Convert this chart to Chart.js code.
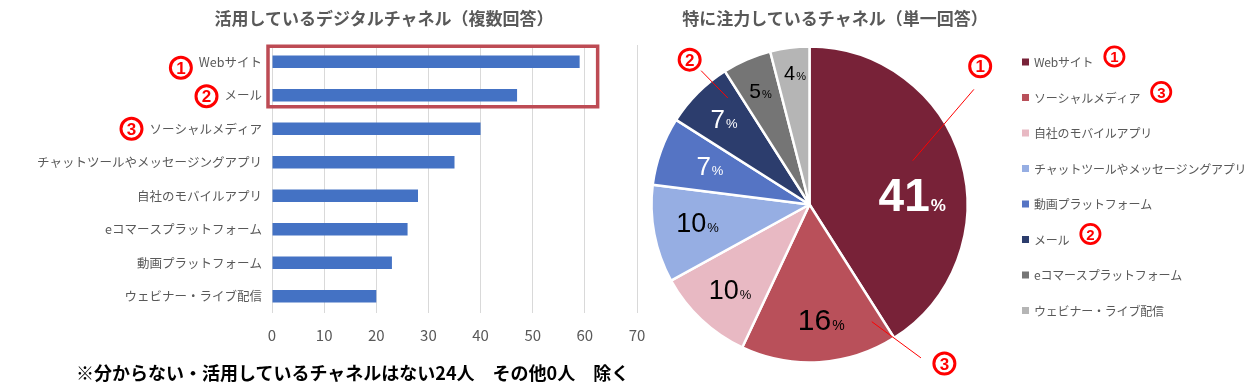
<!DOCTYPE html>
<html lang="ja">
<head>
<meta charset="utf-8">
<script src="https://cdn.jsdelivr.net/npm/chart.js@4.4.1/dist/chart.umd.min.js"></script>
<style>
  html, body { margin: 0; padding: 0; background: #fff; }
  #wrap { position: relative; width: 1246px; height: 384px; overflow: hidden; font-family: "Noto Sans CJK JP", sans-serif; }
  #barBox { position: absolute; left: 0; top: 0; width: 660px; height: 384px; }
  #pieBox { position: absolute; left: 640px; top: 0; width: 606px; height: 384px; }
  .ttl { position: absolute; top: 9px; line-height: 18px; font-size: 17px; font-weight: bold; color: #595959; white-space: nowrap; transform: translateX(-50%); }
  #note { position: absolute; left: 76px; top: 363px; line-height: 19px; font-size: 18px; font-weight: bold; color: #000; white-space: nowrap; }
</style>
</head>
<body>
<div id="wrap">
  <div id="barBox"><canvas id="barChart" width="660" height="384"></canvas></div>
  <div id="pieBox"><canvas id="pieChart" width="606" height="384"></canvas></div>
  <div class="ttl" style="left:384px">活用しているデジタルチャネル（複数回答）</div>
  <div class="ttl" style="left:835px">特に注力しているチャネル（単一回答）</div>
  <div id="note">※分からない・活用しているチャネルはない24人　その他0人　除く</div>
</div>
<script>
// ---------------------------------------------
// データ
// ---------------------------------------------
const barLabels = [
  "Webサイト", "メール", "ソーシャルメディア", "チャットツールやメッセージングアプリ",
  "自社のモバイルアプリ", "eコマースプラットフォーム", "動画プラットフォーム", "ウェビナー・ライブ配信"
];
const barValues = [59, 47, 40, 35, 28, 26, 23, 20];
const barAxisMax = 70;
const barAxisStep = 10;

const pieLabels = [
  "Webサイト", "ソーシャルメディア", "自社のモバイルアプリ", "チャットツールやメッセージングアプリ",
  "動画プラットフォーム", "メール", "eコマースプラットフォーム", "ウェビナー・ライブ配信"
];
const pieValues = [41, 16, 10, 10, 7, 7, 5, 4];

// 順位マーク（index -> 数字）
const barRanks = [1, 2, 3];
const pieRanks = { 0: 1, 5: 2, 1: 3 };

// ---------------------------------------------
// スタイル
// ---------------------------------------------
const FONT = '"Noto Sans CJK JP", sans-serif';
const NUM_FONT = '"Liberation Sans", Arial, sans-serif';
const GRAY = "#595959";
const RED = "#ff0000";
const LABEL_PX = 12.5;
const pieColors = ["#782238", "#b9505a", "#e8b9c3", "#96aee3", "#5574c4", "#2c3d6d", "#757575", "#b5b5b5"];

// スライスラベル: r=半径比, turn=角度補正(度), size/pct=フォントサイズ
const sliceLabelStyle = [
  { r: 0.65, turn: 10.5, size: 46, pct: 17, color: "#fff", bold: true },
  { r: 0.73, turn: -2, size: 30, pct: 14, color: "#000" },
  { r: 0.74, turn: 0, size: 27, pct: 13, color: "#000" },
  { r: 0.72, turn: 2, size: 27, pct: 13, color: "#000" },
  { r: 0.68, turn: 1.5, size: 26, pct: 13, color: "#fff" },
  { r: 0.77, turn: 0, size: 26, pct: 13, color: "#fff" },
  { r: 0.79, turn: 0, size: 21, pct: 11, color: "#000" },
  { r: 0.84, turn: 0.7, size: 20, pct: 11, color: "#000" }
];

// 円グラフの引き出し線 [半径比, 角度(上から時計回り・度)]
const pieCallouts = [
  { idx: 0, from: [0.71, 67], to: [1.27, 55], at: [1.39, 51] },
  { idx: 5, from: [0.85, 322.5], to: [1.09, 321], at: [1.19, 320.4] },
  { idx: 1, from: [0.84, 152], to: [1.2, 144], at: [1.32, 139.7] }
];

// ---------------------------------------------
// 補助関数
// ---------------------------------------------
const polar = (cx, cy, R, [f, deg]) => {
  const a = (deg - 90) * Math.PI / 180;
  return [cx + Math.cos(a) * R * f, cy + Math.sin(a) * R * f];
};

// 赤い丸数字（円＋数字）
const drawMark = (ctx, n, x, y, d) => {
  ctx.save();
  ctx.strokeStyle = RED;
  ctx.fillStyle = RED;
  ctx.lineWidth = d * 0.125;
  ctx.beginPath();
  ctx.arc(x, y, d / 2 - ctx.lineWidth / 2, 0, Math.PI * 2);
  ctx.stroke();
  ctx.font = `bold ${Math.round(d * 0.7)}px ${NUM_FONT}`;
  ctx.textAlign = "center";
  ctx.textBaseline = "alphabetic";
  ctx.fillText(String(n), x, y + d * 0.25);
  ctx.restore();
};

// ---------------------------------------------
// 棒グラフ用プラグイン（赤枠と順位マーク）
// ---------------------------------------------
const barMarks = {
  id: "barMarks",
  afterDraw(chart) {
    const { ctx, chartArea, scales: { x, y } } = chart;
    // 上位2項目の赤枠
    const top = y.getPixelForValue(0) - 15.5;
    const bottom = y.getPixelForValue(1) + 11.5;
    const right = x.getPixelForValue(Math.max(barValues[0], barValues[1])) + 18;
    ctx.save();
    ctx.strokeStyle = "#bd4b54";
    ctx.lineWidth = 3.5;
    ctx.strokeRect(chartArea.left - 4, top, right - chartArea.left + 4, bottom - top);
    ctx.restore();

    // ラベル左の ① ② ③
    ctx.save();
    ctx.font = `${LABEL_PX}px ${FONT}`;
    const pad = y.options.ticks.padding;
    const dys = [6, 1, 0];
    barRanks.forEach((n, i) => {
      const w = ctx.measureText(barLabels[i]).width;
      const cx = chartArea.left - pad - w - 18;
      drawMark(ctx, n, cx, y.getPixelForValue(i) + dys[i], 24);
    });
    ctx.restore();
  }
};

// ---------------------------------------------
// 円グラフ用プラグイン（ラベル・引き出し線・凡例）
// ---------------------------------------------
const pieExtras = {
  id: "pieExtras",
  afterDraw(chart) {
    const { ctx, chartArea } = chart;
    const arcs = chart.getDatasetMeta(0).data;
    const { x: cx, y: cy, outerRadius: R } = arcs[0].getProps(["x", "y", "outerRadius"], true);

    // スライス内のパーセント表示
    arcs.forEach((arc, i) => {
      const { startAngle, endAngle } = arc.getProps(["startAngle", "endAngle"], true);
      const st = sliceLabelStyle[i];
      const mid = (startAngle + endAngle) / 2 + st.turn * Math.PI / 180;
      const px = cx + Math.cos(mid) * R * st.r;
      const py = cy + Math.sin(mid) * R * st.r;
      const num = String(pieValues[i]);
      const numFont = `${st.bold ? "bold " : ""}${st.size}px ${NUM_FONT}`;
      const pctFont = `${st.bold ? "bold " : ""}${st.pct}px ${NUM_FONT}`;
      ctx.save();
      ctx.textBaseline = "alphabetic";
      ctx.fillStyle = st.color;
      ctx.font = numFont;
      const w1 = ctx.measureText(num).width;
      ctx.font = pctFont;
      const w2 = ctx.measureText("%").width;
      const left = px - (w1 + w2) / 2;
      const base = py + st.size * 0.36;
      ctx.font = numFont;
      ctx.fillText(num, left, base);
      ctx.font = pctFont;
      ctx.fillText("%", left + w1 + 1, base);
      ctx.restore();
    });

    // 引き出し線と順位マーク
    pieCallouts.forEach((c) => {
      const a = polar(cx, cy, R, c.from);
      const b = polar(cx, cy, R, c.to);
      const m = polar(cx, cy, R, c.at);
      ctx.save();
      ctx.strokeStyle = RED;
      ctx.lineWidth = 1;
      ctx.beginPath();
      ctx.moveTo(a[0], a[1]);
      ctx.lineTo(b[0], b[1]);
      ctx.stroke();
      ctx.restore();
      drawMark(ctx, pieRanks[c.idx], m[0], m[1], 24);
    });

    // 凡例
    const lx = chartArea.right + 53;
    const ly0 = 61.5;
    const step = 35.5;
    ctx.save();
    ctx.font = `12px ${FONT}`;
    ctx.letterSpacing = "-0.2px";
    ctx.textBaseline = "middle";
    pieLabels.forEach((lab, i) => {
      const ly = ly0 + i * step;
      ctx.fillStyle = pieColors[i];
      ctx.fillRect(lx, ly - 3, 7, 7);
      ctx.fillStyle = GRAY;
      ctx.fillText(lab, lx + 12, ly + 1);
      if (pieRanks[i]) {
        const w = ctx.measureText(lab).width;
        drawMark(ctx, pieRanks[i], lx + 12 + w + 21, ly - 5, 22);
      }
    });
    ctx.restore();
  }
};

// ---------------------------------------------
// 描画
// ---------------------------------------------
new Chart(document.getElementById("barChart"), {
  type: "bar",
  data: {
    labels: barLabels,
    datasets: [{
      data: barValues,
      backgroundColor: "#4472c4",
      barPercentage: 0.375,
      categoryPercentage: 1
    }]
  },
  options: {
    indexAxis: "y",
    responsive: false,
    animation: false,
    layout: { padding: { left: 0, right: 23, top: 45, bottom: 31 } },
    plugins: { legend: { display: false }, tooltip: { enabled: false } },
    scales: {
      x: {
        min: 0,
        max: barAxisMax,
        ticks: { stepSize: barAxisStep, color: GRAY, font: { size: 15, family: FONT }, padding: 13 },
        grid: { color: "#d9d9d9", drawTicks: false },
        border: { display: false },
        afterFit: (s) => { s.height = 40; }
      },
      y: {
        ticks: { color: GRAY, font: { size: LABEL_PX, family: FONT }, padding: 10, autoSkip: false },
        grid: { display: false, drawTicks: false },
        border: { display: false },
        afterFit: (s) => { s.width = 272; }
      }
    }
  },
  plugins: [barMarks]
});

new Chart(document.getElementById("pieChart"), {
  type: "pie",
  data: {
    labels: pieLabels,
    datasets: [{
      data: pieValues,
      backgroundColor: pieColors,
      borderColor: "#fff",
      borderWidth: 2.5,
      radius: 158
    }]
  },
  options: {
    responsive: false,
    animation: false,
    layout: { padding: { left: 10, right: 277, top: 45, bottom: 20 } },
    plugins: { legend: { display: false }, tooltip: { enabled: false } }
  },
  plugins: [pieExtras]
});
</script>
</body>
</html>
